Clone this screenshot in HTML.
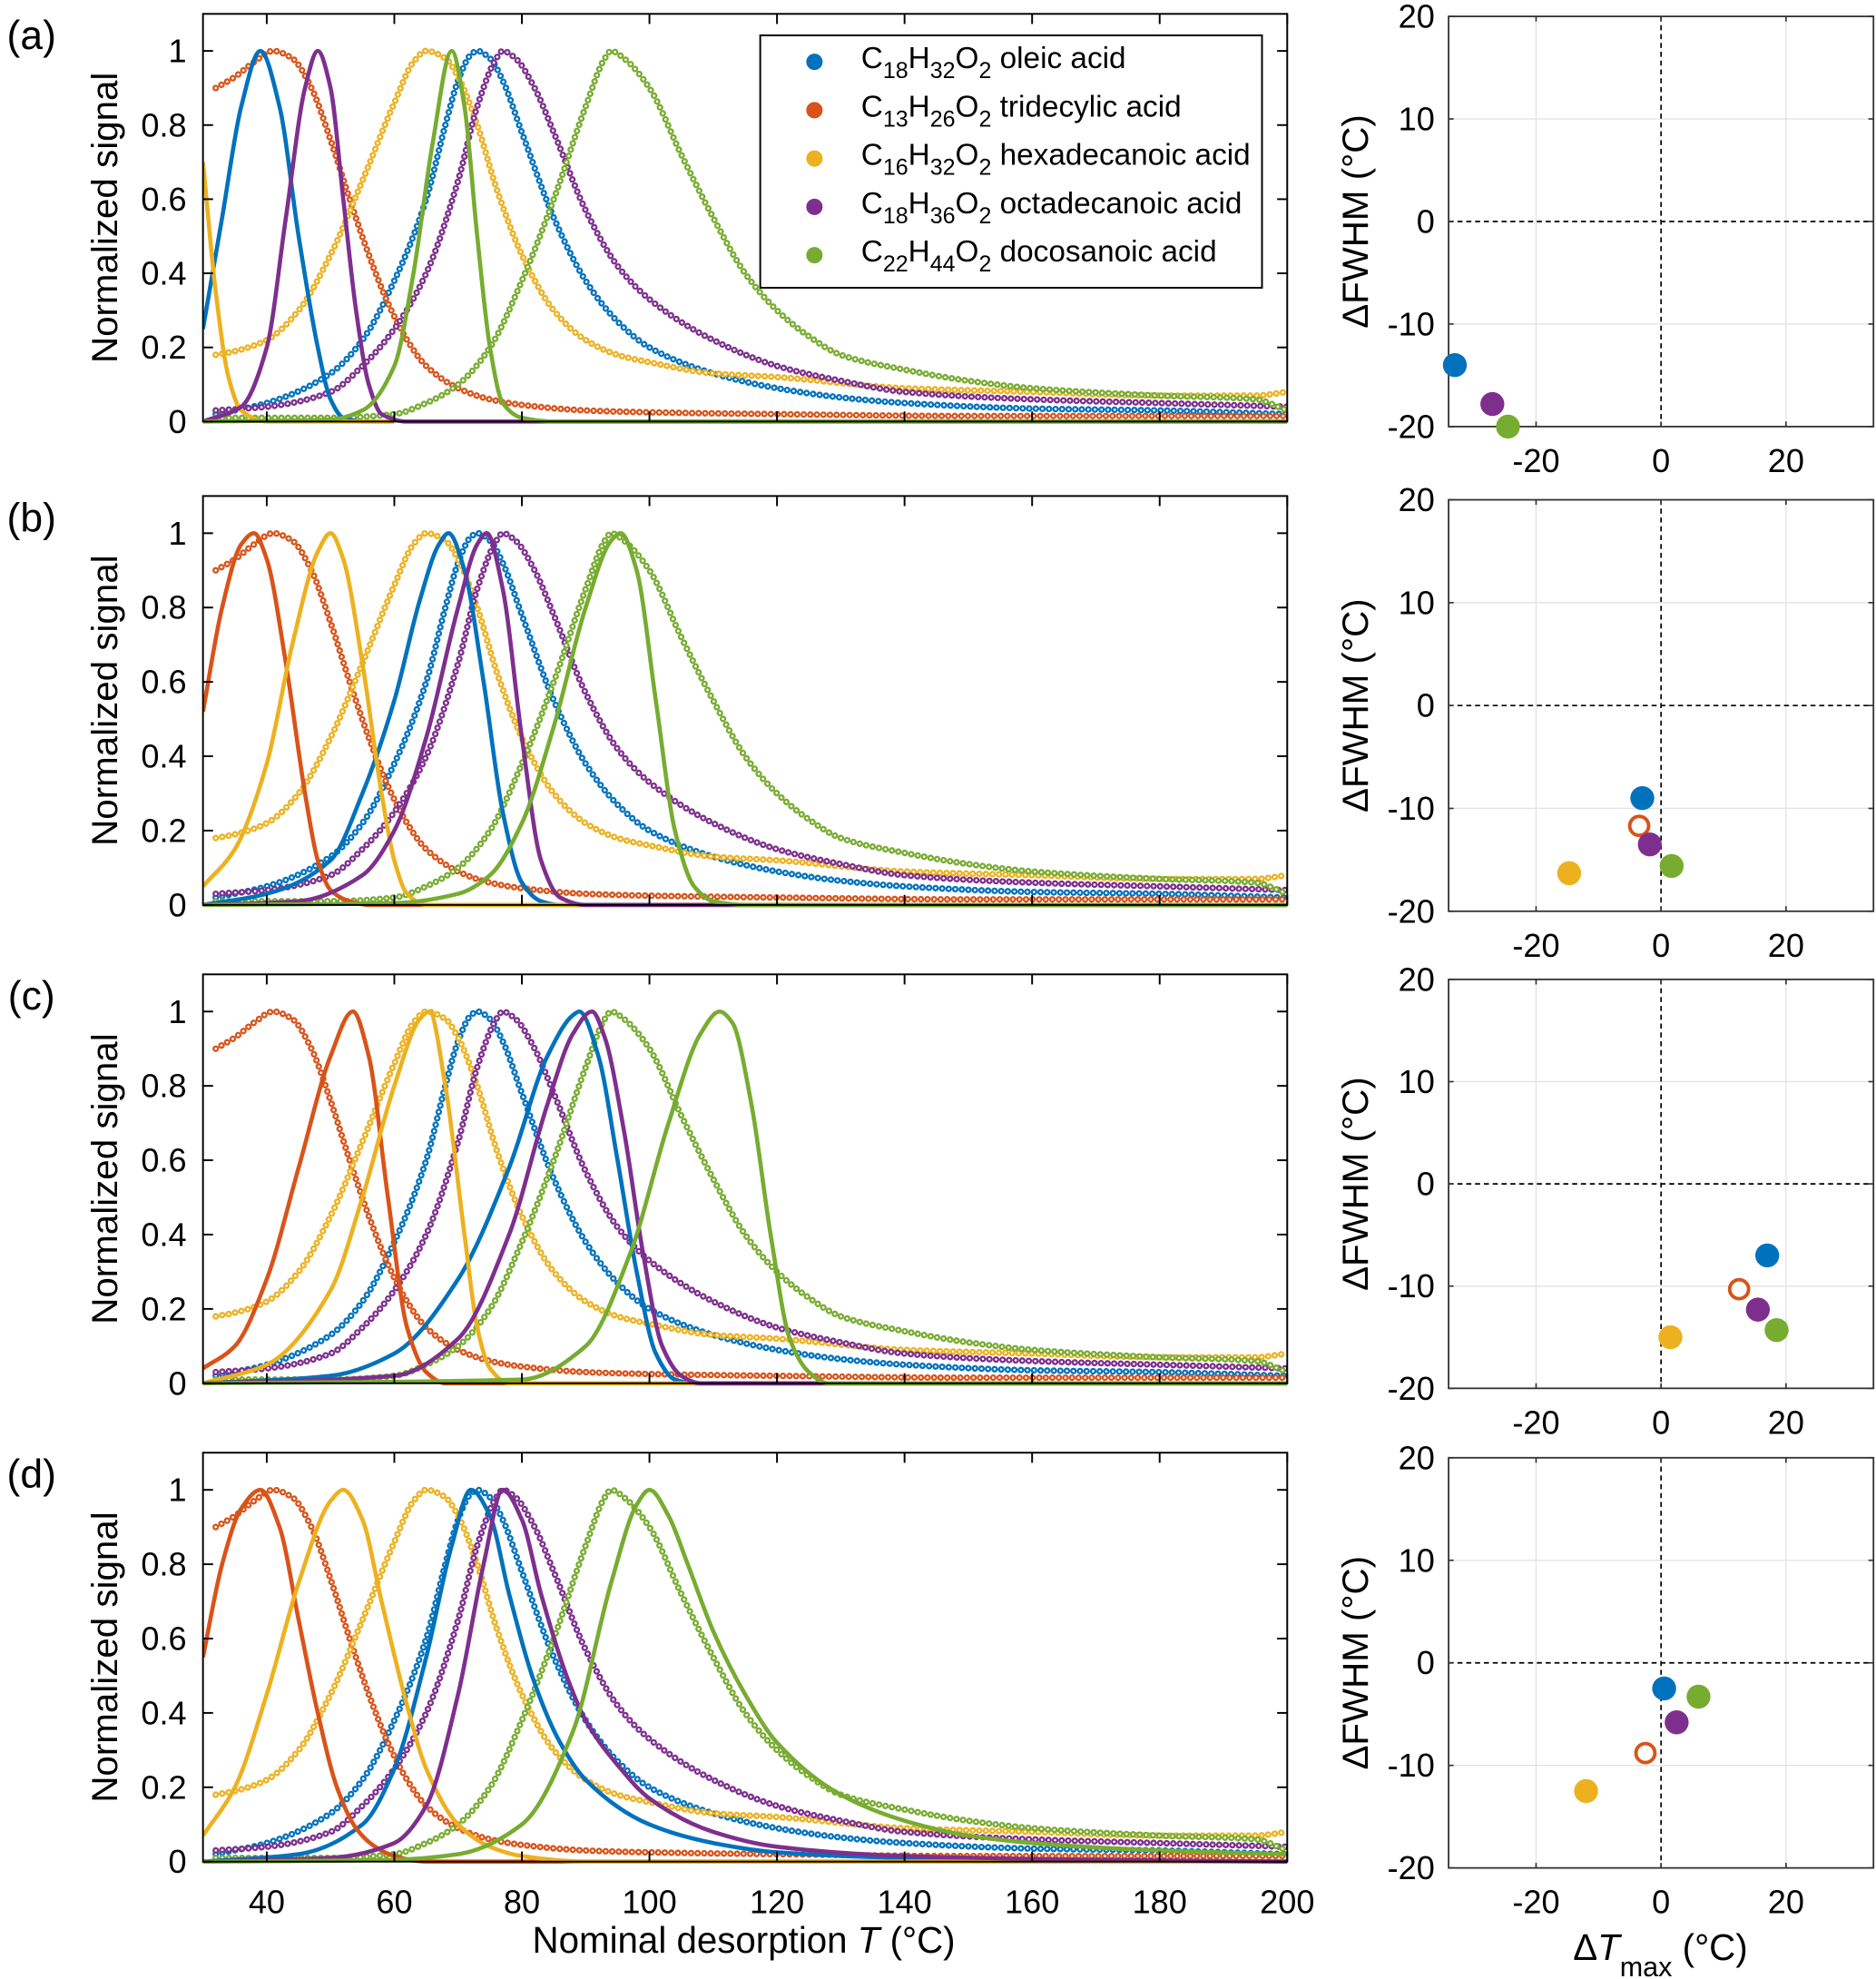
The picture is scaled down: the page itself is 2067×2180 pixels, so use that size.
<!DOCTYPE html>
<html><head><meta charset="utf-8"><style>
html,body{margin:0;padding:0;background:#fff;}
svg{display:block;font-family:"Liberation Sans",sans-serif;}
</style></head><body>
<svg id="fig" width="2067" height="2180" viewBox="0 0 1488 1568" preserveAspectRatio="none" xmlns="http://www.w3.org/2000/svg">
<defs></defs>
</svg>
<script>
// ---- data ----
const compounds = ['oleic','tridecylic','hexadecanoic','octadecanoic','docosanoic'];
const colors = {oleic:'#0072BD',tridecylic:'#D95319',hexadecanoic:'#EDB120',octadecanoic:'#7E2F8E',docosanoic:'#77AC30'};
const xTicks = [40,60,80,100,120,140,160,180,200];
const yTicks = [0,0.2,0.4,0.6,0.8,1];
const yTickLabels = ['0','0.2','0.4','0.6','0.8','1'];
const sTicks = [-20,-10,0,10,20];
const sxTicks = [-20,0,20];
const panelLetters = ['(a)','(b)','(c)','(d)'];

// measured (markers), shared across panels: [T, value]
const measOleic = [[32,0.02],[40,0.05],[50,0.13],[55,0.22],[60,0.38],[65,0.6],[68,0.8],[70,0.92],[72,0.99],[73,1.0],[75,0.98],[77,0.92],[80,0.78],[85,0.55],[90,0.38],[95,0.27],[100,0.2],[110,0.13],[120,0.09],[130,0.065],[140,0.05],[160,0.035],[180,0.03],[200,0.02]];
const measTridecylic = [[32,0.9],[35,0.93],[38,0.97],[41,1.0],[44,0.98],[47,0.9],[50,0.76],[53,0.6],[56,0.45],[59,0.32],[62,0.22],[65,0.15],[70,0.09],[75,0.06],[80,0.045],[90,0.03],[100,0.025],[120,0.02],[150,0.015],[180,0.015],[200,0.015]];
const measHexadecanoic = [[32,0.18],[35,0.19],[40,0.22],[45,0.3],[50,0.45],[55,0.65],[60,0.86],[63,0.97],[65,1.0],[68,0.98],[70,0.93],[73,0.8],[76,0.63],[80,0.45],[85,0.3],[90,0.22],[95,0.18],[100,0.16],[110,0.13],[120,0.12],[140,0.09],[160,0.08],[180,0.07],[195,0.07],[200,0.08]];
const measOctadecanoic = [[32,0.03],[40,0.04],[50,0.08],[55,0.15],[60,0.25],[65,0.4],[70,0.65],[73,0.85],[76,0.98],[77,1.0],[79,0.98],[82,0.9],[85,0.78],[90,0.57],[95,0.42],[100,0.33],[110,0.22],[120,0.15],[130,0.11],[140,0.08],[160,0.06],[180,0.05],[200,0.04]];
const measDocosanoic = [[32,0.01],[50,0.01],[60,0.02],[65,0.05],[70,0.1],[75,0.2],[80,0.38],[85,0.6],[90,0.85],[93,0.98],[94,1.0],[96,0.98],[100,0.9],[105,0.72],[110,0.55],[115,0.4],[120,0.3],[125,0.23],[130,0.18],[140,0.14],[150,0.11],[160,0.09],[180,0.07],[195,0.06],[200,0.03]];
const measured = {oleic:measOleic,tridecylic:measTridecylic,hexadecanoic:measHexadecanoic,octadecanoic:measOctadecanoic,docosanoic:measDocosanoic};

// modelled (solid lines) per panel
const modelA = {
 hexadecanoic:[[30,0.7],[32,0.35],[34,0.12],[36,0.03],[40,0],[60,0]],
 oleic:[[30,0.25],[33,0.55],[36,0.85],[39,1.0],[42,0.85],[45,0.5],[48,0.2],[50,0.06],[52,0.01],[55,0],[60,0]],
 octadecanoic:[[30,0],[36,0.04],[40,0.2],[43,0.55],[46,0.9],[48,1.0],[50,0.9],[52,0.6],[54,0.3],[56,0.1],[58,0.02],[62,0],[200,0]],
 docosanoic:[[30,0],[50,0.005],[55,0.03],[60,0.15],[63,0.4],[66,0.75],[69,1.0],[71,0.85],[73,0.5],[75,0.2],[77,0.05],[80,0.01],[85,0],[200,0]]
};
const modelB = {
 tridecylic:[[30,0.52],[33,0.8],[36,0.97],[38,1.0],[40,0.93],[43,0.65],[46,0.3],[48,0.12],[50,0.04],[53,0.01],[56,0],[200,0]],
 hexadecanoic:[[30,0.05],[35,0.15],[40,0.38],[44,0.7],[48,0.95],[50,1.0],[52,0.93],[55,0.65],[58,0.3],[60,0.12],[62,0.03],[65,0],[200,0]],
 oleic:[[30,0],[40,0.03],[50,0.12],[55,0.3],[60,0.55],[64,0.82],[67,0.97],[68.5,1.0],[71,0.9],[74,0.6],[77,0.25],[80,0.06],[83,0.01],[86,0],[200,0]],
 octadecanoic:[[30,0],[45,0.01],[55,0.08],[60,0.2],[65,0.45],[70,0.8],[73,0.97],[74.5,1.0],[77,0.85],[80,0.45],[83,0.12],[86,0.02],[90,0],[200,0]],
 docosanoic:[[30,0],[60,0.005],[70,0.03],[75,0.08],[80,0.22],[85,0.48],[90,0.8],[94,0.98],[95.5,1.0],[98,0.9],[101,0.55],[104,0.2],[107,0.05],[110,0.01],[115,0],[200,0]]
};
const modelC = {
 tridecylic:[[30,0.04],[35,0.1],[40,0.28],[45,0.58],[50,0.88],[53.5,1.0],[56,0.88],[59,0.5],[62,0.15],[65,0.03],[68,0],[200,0]],
 hexadecanoic:[[30,0],[40,0.05],[50,0.25],[55,0.5],[60,0.8],[64,0.98],[65.5,1.0],[68,0.8],[71,0.4],[73,0.15],[75,0.04],[78,0],[200,0]],
 oleic:[[30,0],[50,0.02],[60,0.08],[70,0.28],[78,0.58],[84,0.88],[88,0.99],[89,1.0],[92,0.88],[95,0.6],[98,0.3],[101,0.08],[104,0.01],[107,0],[200,0]],
 octadecanoic:[[30,0],[60,0.02],[70,0.12],[78,0.4],[84,0.75],[88,0.94],[91,1.0],[93,0.93],[96,0.68],[99,0.35],[102,0.1],[105,0.02],[108,0],[200,0]],
 docosanoic:[[30,0],[80,0.01],[90,0.1],[97,0.35],[103,0.7],[108,0.94],[111,1.0],[113,0.97],[116,0.75],[119,0.4],[122,0.12],[125,0.03],[128,0],[200,0]]
};
const modelD = {
 tridecylic:[[30,0.55],[33,0.8],[36,0.95],[39,1.0],[42,0.9],[45,0.65],[48,0.4],[51,0.2],[54,0.09],[57,0.04],[60,0.015],[65,0],[200,0]],
 hexadecanoic:[[30,0.07],[35,0.2],[40,0.45],[45,0.75],[50,0.97],[52,1.0],[55,0.92],[58,0.7],[62,0.42],[65,0.25],[70,0.1],[75,0.04],[80,0.015],[90,0],[200,0]],
 oleic:[[30,0],[45,0.02],[55,0.1],[60,0.25],[65,0.55],[69,0.85],[72,1.0],[75,0.93],[78,0.72],[82,0.48],[86,0.32],[90,0.22],[100,0.1],[110,0.05],[120,0.025],[140,0.01],[160,0.005],[200,0]],
 octadecanoic:[[30,0],[50,0.01],[60,0.05],[65,0.15],[70,0.45],[74,0.8],[77,1.0],[80,0.92],[83,0.72],[87,0.5],[90,0.38],[95,0.26],[100,0.17],[110,0.08],[120,0.04],[140,0.015],[170,0.005],[200,0]],
 docosanoic:[[30,0],[60,0.005],[70,0.02],[80,0.1],[88,0.35],[94,0.75],[98,0.96],[100,1.0],[103,0.93],[106,0.8],[110,0.62],[115,0.45],[120,0.32],[130,0.18],[140,0.11],[150,0.07],[160,0.05],[180,0.03],[200,0.02]]
};
const models = [modelA, modelB, modelC, modelD];

// scatter: [dTmax, dFWHM]
const scatA = {oleic:[-33,-14],octadecanoic:[-27,-17.8],docosanoic:[-24.5,-20]};
const scatB = {oleic:[-3,-9],tridecylic:[-3.5,-11.7],octadecanoic:[-1.8,-13.5],docosanoic:[1.7,-15.6],hexadecanoic:[-14.7,-16.3]};
const scatC = {oleic:[17,-7],tridecylic:[12.5,-10.3],octadecanoic:[15.5,-12.3],docosanoic:[18.5,-14.3],hexadecanoic:[1.5,-15]};
const scatD = {oleic:[0.5,-2.5],docosanoic:[6,-3.3],octadecanoic:[2.5,-5.8],tridecylic:[-2.5,-8.8],hexadecanoic:[-12,-12.5]};
const scatters = [scatA, scatB, scatC, scatD];

const legendLabels = [
 ['oleic','18','32','oleic acid'],
 ['tridecylic','13','26','tridecylic acid'],
 ['hexadecanoic','16','32','hexadecanoic acid'],
 ['octadecanoic','18','36','octadecanoic acid'],
 ['docosanoic','22','44','docosanoic acid']
];

// ---- layout ----
const NS='http://www.w3.org/2000/svg';
const svg=document.getElementById('fig');
const defs=svg.querySelector('defs');
const L={x0:161,x1:1021};
const R={x0:1149,x1:1486};
const panelTop=[11,393,772,1151];
const panelZero=[334,717,1096,1475];
const rTop=[13,396,776,1155], rBot=[338,722,1100,1480];
function el(tag,attrs,parent){const e=document.createElementNS(NS,tag);for(const k in attrs)e.setAttribute(k,attrs[k]);(parent||svg).appendChild(e);return e;}
function txt(s,x,y,size,anchor,parent){const t=el('text',{x:x,y:y,'font-size':size,'text-anchor':anchor||'middle',fill:'#000'},parent);t.textContent=s;return t;}
function sx(T){return L.x0+(T-30)/(200-30)*(L.x1-L.x0);}
// monotone cubic (Fritsch–Carlson) path through screen points sorted by x
function smooth(pts){
 const n=pts.length;
 if(n<2)return '';
 const dx=[],m=[];
 for(let i=0;i<n-1;i++){dx.push(pts[i+1][0]-pts[i][0]);m.push((pts[i+1][1]-pts[i][1])/dx[i]);}
 const t=new Array(n);
 t[0]=m[0];t[n-1]=m[n-2];
 for(let i=1;i<n-1;i++){
  if(m[i-1]*m[i]<=0)t[i]=0;
  else{const w1=2*dx[i]+dx[i-1],w2=dx[i]+2*dx[i-1];t[i]=(w1+w2)/(w1/m[i-1]+w2/m[i]);}
 }
 let d='M'+pts[0][0].toFixed(2)+','+pts[0][1].toFixed(2);
 for(let i=0;i<n-1;i++){
  const h=dx[i]/3;
  d+=' C'+(pts[i][0]+h).toFixed(2)+','+(pts[i][1]+t[i]*h).toFixed(2)+' '+(pts[i+1][0]-h).toFixed(2)+','+(pts[i+1][1]-t[i+1]*h).toFixed(2)+' '+pts[i+1][0].toFixed(2)+','+pts[i+1][1].toFixed(2);
 }
 return d;
}

for(let p=0;p<4;p++){
 const top=panelTop[p], y0=panelZero[p];
 const sy=v=>y0-v*(y0-top)/1.1;
 const g=el('g',{});
 
 
 const cp=el('clipPath',{id:'clip'+p},defs);
 el('rect',{x:L.x0,y:top,width:L.x1-L.x0,height:y0-top+2},cp);
 const lt=txt(panelLetters[p],25,top+28,32,'middle',g);
 
 
 const data=el('g',{'clip-path':'url(#clip'+p+')'},g);
 compounds.forEach(c=>{
  const pts=measured[c].map(q=>[sx(q[0]),sy(q[1])]);
  const d=smooth(pts);
  const m=el('path',{d:d,fill:'none',stroke:colors[c],'stroke-width':5.2,'stroke-linecap':'round','stroke-dasharray':'0.01 5.2'},data);
  
  
  el('path',{d:d,fill:'none',stroke:'#fff','stroke-width':1.9,'stroke-linecap':'round','stroke-dasharray':'0.01 5.2'},data);
 });
 const mod=models[p];
 compounds.forEach(c=>{
  if(!mod[c])return;
  const pts=mod[c].map(q=>[sx(q[0]),sy(q[1])]);
  const l=el('path',{d:smooth(pts),fill:'none',stroke:colors[c],'stroke-width':3.3,'stroke-linejoin':'round'},data);
  
  
 });
 const fr=el('rect',{x:L.x0,y:top,width:L.x1-L.x0,height:y0-top,fill:'none',stroke:'#000','stroke-width':1.4},g);
 
 
 xTicks.forEach(t=>{
  const x=sx(t);
  el('line',{x1:x,x2:x,y1:y0,y2:y0-8,stroke:'#000','stroke-width':1.4},g);
  el('line',{x1:x,x2:x,y1:top,y2:top+8,stroke:'#000','stroke-width':1.4},g);
  if(p===3){const tl=txt(String(t),x,y0+41,26,'middle',g);}
 });
 yTicks.forEach((t,i)=>{
  const y=sy(t);
  el('line',{x1:L.x0,x2:L.x0+8,y1:y,y2:y,stroke:'#000','stroke-width':1.4},g);
  el('line',{x1:L.x1,x2:L.x1-8,y1:y,y2:y,stroke:'#000','stroke-width':1.4},g);
  const tl=txt(yTickLabels[i],148,y+9,26,'end',g);
  
  
 });
 const yl=txt('Normalized signal',0,0,29,'middle',g);
 yl.setAttribute('transform','translate(93,'+((top+y0)/2)+') rotate(-90)');
 
 

 const rt=rTop[p], rb=rBot[p];
 const rx=v=>R.x0+(v+34)/68*(R.x1-R.x0);
 const ry=v=>rb-(v+20)/40*(rb-rt);
 const rg=el('g',{});
 
 
 sxTicks.forEach(t=>{ if(t!==0) el('line',{x1:rx(t),x2:rx(t),y1:rt,y2:rb,stroke:'#e3e3e3','stroke-width':1},rg);});
 sTicks.forEach(t=>{ if(t!==0) el('line',{x1:R.x0,x2:R.x1,y1:ry(t),y2:ry(t),stroke:'#e3e3e3','stroke-width':1},rg);});
 el('line',{x1:rx(0),x2:rx(0),y1:rt,y2:rb,stroke:'#000','stroke-width':1.2,'stroke-dasharray':'4 3'},rg);
 el('line',{x1:R.x0,x2:R.x1,y1:ry(0),y2:ry(0),stroke:'#000','stroke-width':1.2,'stroke-dasharray':'4 3'},rg);
 el('rect',{x:R.x0,y:rt,width:R.x1-R.x0,height:rb-rt,fill:'none',stroke:'#333','stroke-width':1.3},rg);
 sxTicks.forEach(t=>{
  el('line',{x1:rx(t),x2:rx(t),y1:rb,y2:rb-4,stroke:'#333','stroke-width':1.2},rg);
  el('line',{x1:rx(t),x2:rx(t),y1:rt,y2:rt+4,stroke:'#333','stroke-width':1.2},rg);
  const tl=txt(String(t),rx(t),rb+36,26,'middle',rg);
  
  
 });
 sTicks.forEach(t=>{
  el('line',{x1:R.x0,x2:R.x0+4,y1:ry(t),y2:ry(t),stroke:'#333','stroke-width':1.2},rg);
  el('line',{x1:R.x1,x2:R.x1-4,y1:ry(t),y2:ry(t),stroke:'#333','stroke-width':1.2},rg);
  const tl=txt(String(t),1138,ry(t)+9,26,'end',rg);
  
  
 });
 const ryl=txt('\u0394FWHM (\u00B0C)',0,0,29,'middle',rg);
 ryl.setAttribute('transform','translate(1085,'+((rt+rb)/2)+') rotate(-90)');
 
 
 const sc=scatters[p];
 Object.keys(sc).forEach(c=>{
  const v=sc[c];
  let dot;
  if(c==='tridecylic'){
   dot=el('circle',{cx:rx(v[0]),cy:ry(v[1]),r:7.5,fill:'#fff',stroke:colors[c],'stroke-width':2.8},rg);
  } else {
   dot=el('circle',{cx:rx(v[0]),cy:ry(v[1]),r:9.5,fill:colors[c]},rg);
  }
  
  
 });
}

const xt=el('text',{x:590,y:1547,'font-size':29,'text-anchor':'middle'});
xt.innerHTML='Nominal desorption <tspan font-style="italic">T</tspan> (\u00B0C)';


const rxt=el('text',{x:1317,y:1553,'font-size':29,'text-anchor':'middle'});
rxt.innerHTML='\u0394<tspan font-style="italic">T</tspan><tspan font-size="22" dy="13">max</tspan><tspan dy="-13"> (\u00B0C)</tspan>';



const lg=el('g',{});


el('rect',{x:603,y:28,width:398,height:200,fill:'#fff',stroke:'#000','stroke-width':1.4},lg);
legendLabels.forEach((e,i)=>{
 const y=46+i*38.3;
 const ent=el('g',{},lg);
 
 
 el('circle',{cx:646,cy:y+3,r:6.5,fill:colors[e[0]]},ent);
 const t=el('text',{x:683,y:y+8,'font-size':24},ent);
 t.innerHTML='C<tspan font-size="18" dy="8">'+e[1]+'</tspan><tspan dy="-8">H</tspan><tspan font-size="18" dy="8">'+e[2]+'</tspan><tspan dy="-8">O</tspan><tspan font-size="18" dy="8">2</tspan><tspan dy="-8"> '+e[3]+'</tspan>';
});
</script>
</body></html>
